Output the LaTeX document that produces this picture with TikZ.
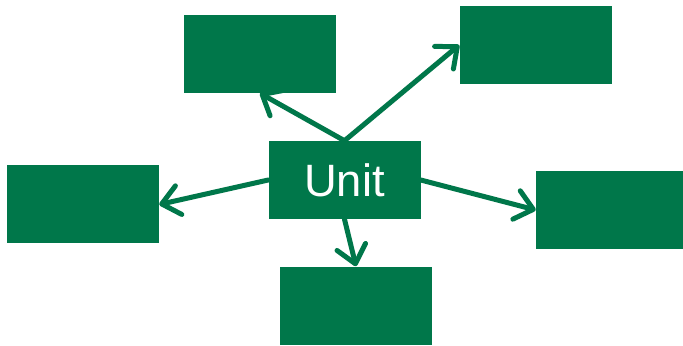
\documentclass[tikz,border=0pt]{standalone}
\usepackage{fontspec}
\setmainfont{Liberation Sans}
\usetikzlibrary{arrows.meta}
\definecolor{unitgreen}{RGB}{0,119,74}
\tikzset{
  box/.style={fill=unitgreen,draw=none,inner sep=0pt,minimum width=114pt,minimum height=58.5pt,text=white,font=\fontsize{34}{40}\selectfont},
  link/.style={draw=unitgreen,line width=3.75pt,line cap=round,-{Straight Barb[length=13pt,width=22pt,round]}}
}
\begin{document}
\begin{tikzpicture}[x=0.75pt,y=-0.75pt]
\useasboundingbox[fill=white] (0,0) rectangle (683,346);
% boxes
\node[box] (unit) at (344.5,180) {Unit};
\node[box] (tl) at (260,54) {};
\node[box] (tr) at (535.5,45) {};
\node[box] (lf) at (83,204.5) {};
\node[box,minimum width=110.25pt] (rt) at (609.5,210) {};
\node[box] (bt) at (356,305.5) {};
% arrows
\draw[link] (unit.north) -- (tl.south);
\draw[link] (unit.north) -- (tr.west);
\draw[link] (unit.west) -- (lf.east);
\draw[link] (unit.east) -- (rt.west);
\draw[link] (unit.south) -- (bt.north);
\end{tikzpicture}
\end{document}
